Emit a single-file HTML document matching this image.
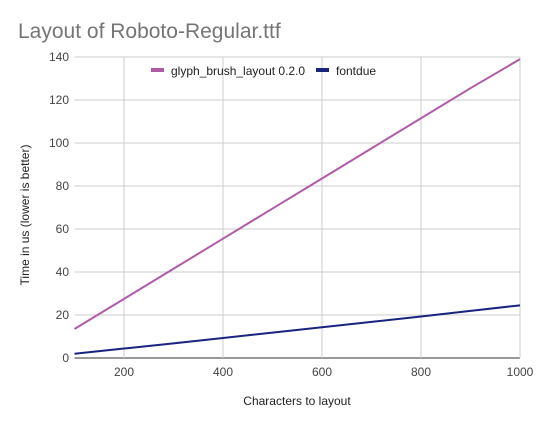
<!DOCTYPE html>
<html><head><meta charset="utf-8"><style>
body{margin:0;background:#fff;font-family:"Liberation Sans",Arial,sans-serif}
svg{display:block}
</style></head><body>
<svg id="c" width="537" height="426">
<rect width="537" height="426" fill="#fff"/>
<text x="18" y="38" font-size="21" fill="#757575">Layout of Roboto-Regular.ttf</text>
<g id="grid"></g>
<g id="series"></g>
<g>
<rect x="151" y="68" width="13" height="4" fill="#b05ba8"/>
<text x="171" y="75" font-size="12" fill="#222">glyph_brush_layout 0.2.0</text>
<rect x="316" y="68" width="13" height="4" fill="#1a237e"/>
<text x="336" y="75" font-size="12" fill="#222">fontdue</text>
</g>
<text x="297" y="405" font-size="12" fill="#222" text-anchor="middle">Characters to layout</text>
<text transform="translate(29,215) rotate(-90)" font-size="12" fill="#222" text-anchor="middle">Time in us (lower is better)</text>
</svg>
<script>
const xs = [100,200,300,400,500,600,700,800,900,1000];
const glyphBrush = [13.5,27.5,41.5,55.5,69.5,83.5,97.5,111.5,125.5,139];
const fontdue = [2,4.4,6.8,9.3,11.8,14.3,16.8,19.3,21.9,24.5];
const xTicks = [200,400,600,800,1000];
const yTicks = [0,20,40,60,80,100,120,140];
const NS="http://www.w3.org/2000/svg";
function X(v){return 74.5+(v-100)*0.495;}
function Y(v){return 358-v*2.15;}
const grid=document.getElementById('grid'), ser=document.getElementById('series');
function mk(tag,attrs,parent){const e=document.createElementNS(NS,tag);for(const k in attrs)e.setAttribute(k,attrs[k]);parent.appendChild(e);return e;}
yTicks.forEach(t=>{
  const l=mk('line',{x1:74.5,x2:520,y1:Y(t),y2:Y(t),stroke:t===0?'#333':'#ccc','stroke-width':1},grid);
  
  
  const tx=mk('text',{x:69,y:Y(t)+4,'font-size':12,fill:'#444','text-anchor':'end'},grid);
  tx.textContent=t;
  
  
});
xTicks.forEach(t=>{
  const l=mk('line',{x1:X(t),x2:X(t),y1:Y(140),y2:Y(0),stroke:'#ccc','stroke-width':1},grid);
  
  
  const tx=mk('text',{x:X(t),y:376,'font-size':12,fill:'#444','text-anchor':'middle'},grid);
  tx.textContent=t;
  
  
});
function line(vals,color,name){
  const p=mk('polyline',{points:xs.map((x,i)=>X(x)+','+Y(vals[i])).join(' '),fill:'none',stroke:color,'stroke-width':2},ser);
  
  
}
line(glyphBrush,'#b05ba8','series-glyph-brush-layout');
line(fontdue,'#1a237e','series-fontdue');
</script>
</body></html>
